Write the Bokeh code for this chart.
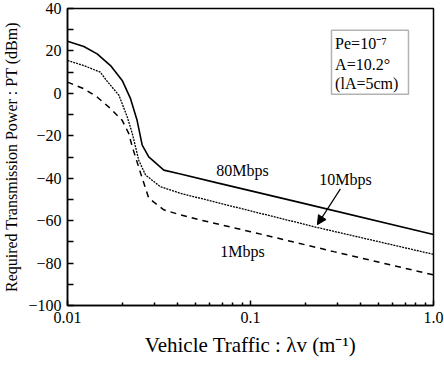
from bokeh.plotting import figure
from bokeh.models import (FixedTicker, CustomJSTickFormatter, Label, BoxAnnotation,
                          Arrow, NormalHead)
from bokeh.embed import file_html
from bokeh.resources import INLINE

# ---- data ----
x80 = [0.01, 0.01228, 0.01452, 0.01718, 0.0199, 0.0221, 0.0240, 0.0256, 0.0278, 0.0336,
       0.0414, 0.0658, 0.1875, 1.0]
y80 = [24.6, 22.1, 18.6, 13.1, 6.1, -2.5, -12.7, -24.4, -29.9, -36.2,
       -38.0, -42.2, -51.5, -66.5]

x10 = [0.01, 0.01228, 0.0151, 0.0165, 0.0191, 0.0212, 0.0226, 0.0245, 0.0267, 0.0322,
       0.0414, 0.0658, 0.231, 1.0]
y10 = [15.5, 13.1, 10.0, 5.6, -0.9, -11.1, -18.9, -31.5, -38.5, -44.0,
       -47.1, -51.5, -63.2, -75.9]

x1 = [0.01, 0.01228, 0.0145, 0.0172, 0.0199, 0.0216, 0.0226, 0.0251, 0.0278, 0.0336,
      0.0414, 0.0533, 0.1, 0.285, 1.0]
y1 = [5.3, 2.2, -1.7, -7.2, -12.7, -18.9, -25.2, -37.7, -49.4, -54.9,
      -57.3, -59.7, -65.2, -74.6, -85.6]

x_major = [0.01, 0.1, 1.0]
x_minor = [0.02, 0.03, 0.04, 0.05, 0.06, 0.07, 0.08, 0.09,
           0.2, 0.3, 0.4, 0.5, 0.6, 0.7, 0.8, 0.9]
y_major = [-100, -80, -60, -40, -20, 0, 20, 40]
y_minor = [-90, -70, -50, -30, -10, 10, 30]

FONT = "Liberation Serif"

p = figure(width=444, height=369, x_axis_type="log", x_range=(0.01, 1.0), y_range=(-100, 40),
           output_backend="svg", toolbar_location=None,
           min_border_left=67, min_border_right=11, min_border_top=8, min_border_bottom=64)
p.background_fill_color = "white"
p.border_fill_color = "white"
p.outline_line_color = "black"
p.outline_line_width = 1.5
p.grid.visible = False

p.line(x80, y80, line_color="black", line_width=1.6)
p.line(x10, y10, line_color="black", line_width=1.3, line_dash="2 1")
p.line(x1, y1, line_color="black", line_width=1.5, line_dash="6 5")

xa = p.xaxis[0]
xa.ticker = FixedTicker(ticks=x_major, minor_ticks=x_minor)
xa.formatter = CustomJSTickFormatter(code="return tick >= 1 ? tick.toFixed(1) : tick.toString();")
ya = p.yaxis[0]
ya.ticker = FixedTicker(ticks=y_major, minor_ticks=y_minor)

for ax in (xa, ya):
    ax.axis_line_color = "black"
    ax.axis_line_width = 1.5
    ax.major_tick_line_color = "black"
    ax.minor_tick_line_color = "black"
    ax.major_tick_line_width = 1.5
    ax.minor_tick_line_width = 1.5
    ax.major_tick_out = 0
    ax.minor_tick_out = 0
    ax.major_label_text_font = FONT
    ax.major_label_text_font_size = "16px"
    ax.major_label_text_color = "black"
    ax.axis_label_text_font = FONT
    ax.axis_label_text_font_style = "normal"
    ax.axis_label_text_color = "black"

xa.major_tick_in = 5
xa.minor_tick_in = 3
ya.major_tick_in = 6
ya.minor_tick_in = 6
xa.major_label_standoff = 6
ya.major_label_standoff = 6

xa.axis_label = "Vehicle Traffic : \u03bbv (m\u207b\u00b9)"
xa.axis_label_text_font_size = "21px"
xa.axis_label_standoff = 7
ya.axis_label = "Required Transmission Power : PT (dBm)"
ya.axis_label_text_font_size = "16px"
ya.axis_label_standoff = 5

# parameter box
p.add_layout(BoxAnnotation(left=0.277, right=0.73, bottom=-0.4, top=29.7,
                           fill_alpha=0, line_color="black", line_width=1.5))
box_lines = [("Pe=10\u207b\u2077", 23.5), ("A=10.2\u00b0", 13.7), ("(lA=5cm)", 4.5)]
for txt, yy in box_lines:
    p.add_layout(Label(x=0.29, y=yy, text=txt, text_font=FONT, text_font_size="16px",
                       text_baseline="middle", text_align="left", text_color="black"))

# series labels
for txt, xx, yy in [("80Mbps", 0.0904, -36.5), ("10Mbps", 0.33, -40.8), ("1Mbps", 0.0904, -74.6)]:
    p.add_layout(Label(x=xx, y=yy, text=txt, text_font=FONT, text_font_size="16px",
                       text_baseline="middle", text_align="center", text_color="black"))

p.add_layout(Arrow(x_start=0.31, y_start=-45.0, x_end=0.232, y_end=-61.9,
                   line_color="black", line_width=1.2,
                   end=NormalHead(size=9, fill_color="black", line_color="black")))

open("out.html", "w").write(file_html(p, INLINE))
